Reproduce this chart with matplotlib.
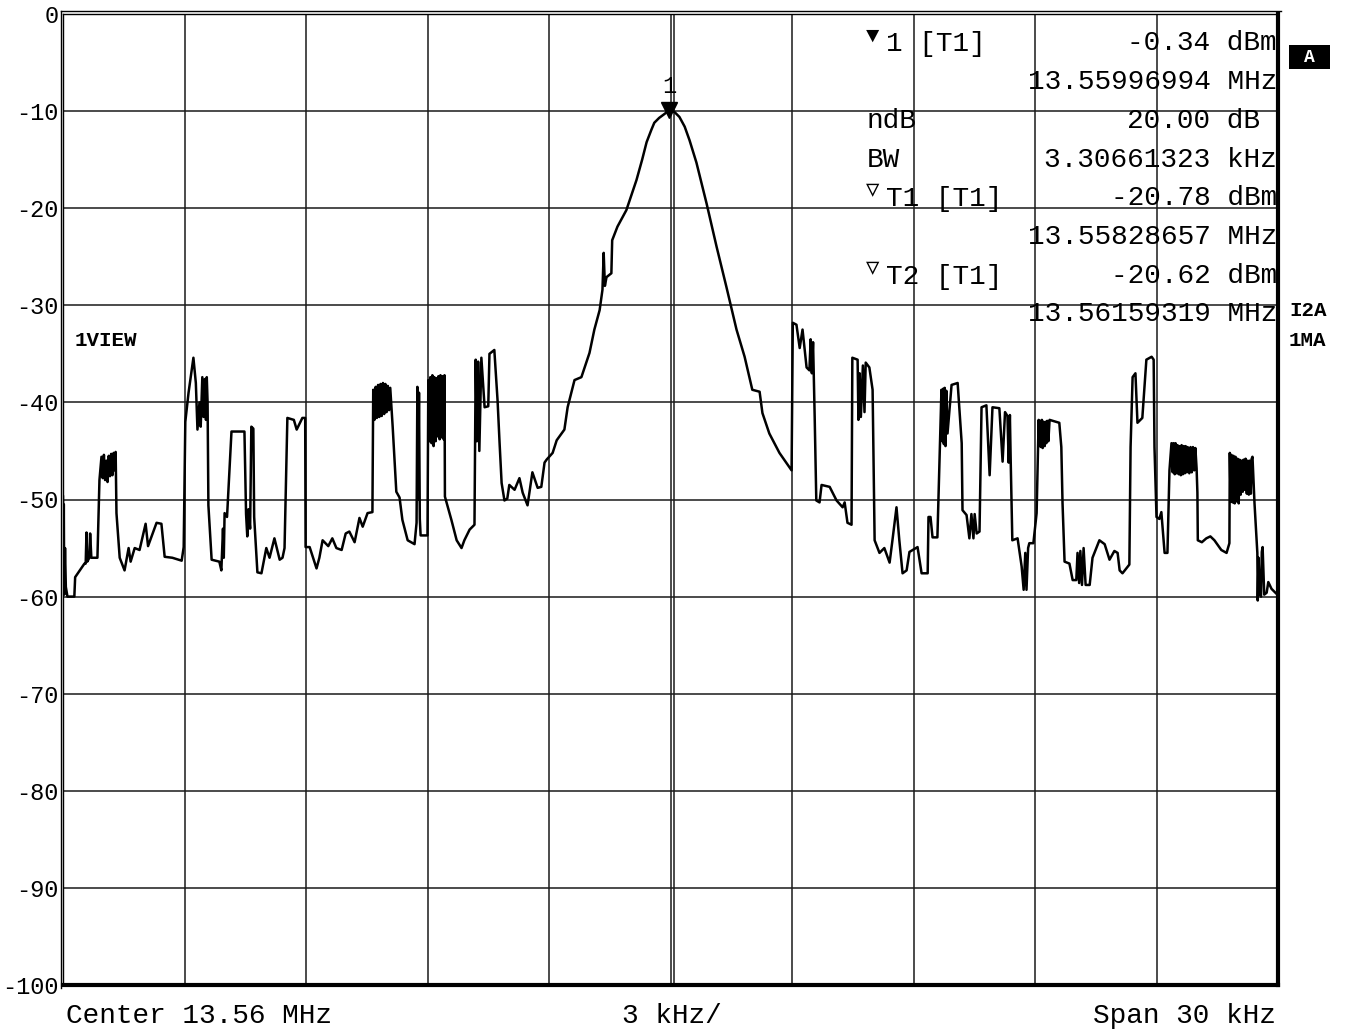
import matplotlib
matplotlib.use("Agg")
import matplotlib.pyplot as plt
from matplotlib.lines import Line2D
from matplotlib.patches import Rectangle

# trace: frequency offset from centre (kHz) and level (dB)
freq_khz = [
    -15.0, -14.99, -14.98, -14.97, -14.95, -14.93, -14.89, -14.72, -14.70, -14.47,
    -14.44, -14.42, -14.40, -14.35, -14.33, -14.30, -14.15, -14.12, -14.10, -14.05,
    -14.02, -13.99, -13.96, -13.93, -13.90, -13.87, -13.84, -13.81, -13.78, -13.75,
    -13.72, -13.70, -13.68, -13.60, -13.48,
    -13.38, -13.33, -13.23, -13.11, -12.96, -12.90, -12.69, -12.57, -12.49, -12.30,
    -12.07, -12.02,
    -11.98, -11.90, -11.78, -11.72, -11.68, -11.63, -11.60, -11.56, -11.53, -11.50,
    -11.47, -11.45, -11.43, -11.41, -11.33, -11.14, -11.09, -11.05, -11.03, -11.01,
    -10.95, -10.84,
    -10.52, -10.48, -10.45, -10.42, -10.38, -10.35, -10.30, -10.28, -10.25, -10.20,
    -10.10,
    -9.98, -9.90, -9.78, -9.65, -9.58, -9.53, -9.46, -9.30, -9.23, -9.09,
    -9.02, -9.01,
    -8.91, -8.74, -8.67, -8.59, -8.45, -8.35, -8.25, -8.12, -8.02, -7.93,
    -7.80, -7.68, -7.60, -7.48, -7.36,
    -7.34, -7.31, -7.28, -7.25, -7.22, -7.19, -7.16, -7.13, -7.10, -7.07,
    -7.04, -7.01, -6.98, -6.95, -6.92, -6.89, -6.86,
    -6.77, -6.69, -6.62, -6.49, -6.32, -6.27,
    -6.25, -6.23, -6.21, -6.19, -6.17, -6.12, -6.00, -5.98, -5.95, -5.93,
    -5.90, -5.88, -5.85, -5.83, -5.80, -5.78, -5.75, -5.73, -5.70, -5.68,
    -5.65, -5.63, -5.60, -5.58, -5.57, -5.41, -5.28, -5.16, -5.09,
    -4.96, -4.84,
    -4.81, -4.78, -4.75, -4.72, -4.67, -4.59, -4.50, -4.47, -4.35, -4.27,
    -4.22, -4.17, -4.10, -4.03, -3.98, -3.85, -3.73, -3.65, -3.53, -3.41,
    -3.28, -3.19, -3.11, -3.06, -2.91, -2.81, -2.62, -2.54, -2.37, -2.20,
    -2.00, -1.88, -1.75, -1.68, -1.65, -1.62, -1.58, -1.46, -1.44, -1.31,
    -1.09, -0.84, -0.70, -0.59, -0.47, -0.40, -0.28, -0.15, -0.03, 0.10,
    0.22, 0.35, 0.47, 0.64, 0.89, 1.14, 1.38, 1.63, 1.83, 2.02,
    2.20, 2.27, 2.44, 2.69, 2.99,
    3.02, 3.11, 3.19, 3.26, 3.36, 3.43, 3.46, 3.49, 3.52, 3.54,
    3.56, 3.60, 3.68, 3.73, 3.93, 4.10, 4.25, 4.30, 4.37, 4.47,
    4.49, 4.62, 4.64, 4.67, 4.70, 4.75, 4.79, 4.82, 4.91, 4.99,
    5.04, 5.16, 5.28, 5.41, 5.48, 5.58, 5.65, 5.73, 5.83, 5.90,
    6.10, 6.20, 6.35, 6.37, 6.42, 6.47, 6.59,
    6.69, 6.71, 6.73, 6.75, 6.77, 6.79, 6.81, 6.84, 6.94, 7.09,
    7.19, 7.21, 7.31, 7.38, 7.43, 7.48, 7.51, 7.56, 7.63,
    7.68, 7.80, 7.88, 7.95, 8.12, 8.20, 8.26, 8.32, 8.35, 8.38,
    8.40, 8.44, 8.57, 8.67, 8.72, 8.76, 8.79, 8.83, 8.86, 8.96,
    9.04, 9.09, 9.11, 9.13, 9.15, 9.17, 9.19, 9.21, 9.24, 9.26,
    9.28, 9.30, 9.33, 9.36, 9.60, 9.65,
    9.68, 9.73, 9.85, 9.93, 10.02, 10.05, 10.09, 10.12, 10.16, 10.20,
    10.25, 10.35, 10.42, 10.59, 10.72, 10.84, 10.96, 11.04, 11.09, 11.16,
    11.33, 11.36, 11.41, 11.48, 11.53, 11.65, 11.75, 11.88, 11.93, 11.95,
    12.00, 12.07, 12.12, 12.20, 12.27, 12.32,
    12.37, 12.40, 12.42, 12.45, 12.47, 12.50, 12.52, 12.55, 12.57, 12.60,
    12.62, 12.65, 12.67, 12.70, 12.72, 12.75, 12.77, 12.81, 12.84, 12.87,
    12.90, 12.93, 12.96, 12.99, 13.01,
    13.02, 13.12, 13.23, 13.33, 13.43, 13.60, 13.73, 13.80,
    13.81, 13.83, 13.85, 13.88, 13.90, 13.93, 13.95, 13.98, 14.00, 14.03,
    14.05, 14.08, 14.10, 14.13, 14.15, 14.18, 14.20, 14.23, 14.25, 14.28,
    14.30, 14.33, 14.35, 14.37, 14.42,
    14.49, 14.50, 14.52, 14.55, 14.58, 14.60, 14.62, 14.66, 14.72, 14.76,
    14.84, 14.96, 15.0,
]
level_db = [
    -49.7, -59.5, -50.5, -59.8, -55.0, -59.0, -60.0, -60.0, -58.0, -56.6,
    -56.6, -53.4, -56.4, -56.0, -53.5, -56.0, -56.0, -51.0, -48.0, -45.6,
    -47.8, -45.4, -48.0, -46.0, -48.2, -45.5, -47.6, -45.3, -47.5, -45.2,
    -47.0, -45.1, -51.4, -56.0, -57.3,
    -55.0, -56.4, -55.0, -55.2, -52.5, -54.8, -52.4, -52.5, -55.9, -56.0,
    -56.3, -54.9,
    -42.0, -39.0, -35.4, -38.0, -42.8, -40.0, -42.5, -37.4, -41.5, -37.6,
    -41.8, -37.4, -40.0, -50.6, -56.2, -56.4, -57.3, -53.0, -56.0, -51.4,
    -51.8, -43.0,
    -43.0, -51.5, -53.8, -51.0, -53.0, -42.5, -42.7, -51.8, -54.0, -57.5,
    -57.6,
    -55.0, -56.0, -54.0, -56.2, -56.0, -55.0, -41.6, -41.8, -42.8, -41.6,
    -41.6, -54.9,
    -54.9, -57.1, -56.0, -54.2, -54.8, -54.0, -55.0, -55.2, -53.5, -53.3,
    -54.4, -51.9, -52.8, -51.4, -51.3,
    -38.7, -41.8, -38.4, -41.6, -38.2, -41.5, -38.1, -41.4, -38.0, -41.2,
    -38.1, -41.0, -38.3, -40.8, -38.5, -40.5, -42.5,
    -49.2, -49.8, -52.1, -54.2, -54.6, -52.4,
    -38.4, -50.0, -39.0, -52.0, -53.7, -53.7, -53.7, -37.7, -44.0, -37.4,
    -44.2, -37.2, -44.5, -37.4, -44.0, -37.5, -43.5, -37.3, -43.8, -37.2,
    -43.6, -37.3, -43.8, -37.2, -49.7, -52.1, -54.2, -55.0, -54.2,
    -53.1, -52.6,
    -35.6, -44.0, -35.8, -45.0, -35.4, -40.5, -40.4, -35.0, -34.6, -39.8,
    -44.2, -48.3, -50.1, -49.9, -48.5, -49.0, -47.8, -49.3, -50.6, -47.2,
    -48.8, -48.7, -46.2, -45.9, -45.2, -43.9, -42.8, -40.5, -37.7, -37.4,
    -34.9, -32.5, -30.5, -28.4, -24.6, -28.0, -27.1, -26.7, -23.3, -21.9,
    -20.2, -17.1, -15.0, -13.2, -11.9, -11.2, -10.7, -10.3, -9.9, -10.1,
    -10.6, -11.6, -13.0, -15.3, -19.5, -24.0, -28.1, -32.5, -35.3, -38.7,
    -38.9, -41.1, -43.2, -45.2, -47.0,
    -31.8, -32.0, -34.4, -32.5, -36.4, -36.7, -33.5, -37.0, -33.8, -37.5,
    -41.5, -50.1, -50.3, -48.5, -48.7, -50.1, -50.8, -50.3, -52.4, -52.6,
    -35.4, -35.6, -41.8, -37.0, -41.5, -36.2, -41.0, -35.9, -36.4, -38.7,
    -54.2, -55.5, -55.0, -56.5, -54.2, -50.8, -54.2, -57.6, -57.3, -55.4,
    -54.9, -57.6, -57.6, -51.8, -51.8, -53.9, -53.9,
    -38.7, -44.0, -38.6, -44.3, -38.5, -44.5, -38.8, -43.2, -38.2, -38.0,
    -44.2, -51.1, -51.6, -54.0, -51.5, -54.0, -51.5, -53.5, -53.3,
    -40.5, -40.3, -47.5, -40.5, -40.6, -46.1, -41.0, -41.4, -46.2, -41.3,
    -46.0, -54.2, -54.0, -56.9, -59.3, -55.5, -59.3, -55.0, -54.5, -54.5,
    -51.4, -41.8, -44.5, -41.9, -44.6, -41.8, -44.7, -42.0, -44.5, -42.0,
    -44.2, -41.9, -44.0, -41.8, -42.1, -44.6,
    -50.4, -56.4, -56.6, -58.3, -58.3, -55.5, -58.6, -55.3, -58.8, -55.0,
    -58.8, -58.8, -56.0, -54.2, -54.6, -56.2, -55.3, -55.5, -57.3, -57.6,
    -56.7, -44.6, -37.4, -37.0, -42.1, -41.6, -35.6, -35.3, -35.6, -44.6,
    -51.8, -52.0, -51.3, -55.5, -55.5, -47.0,
    -44.2, -47.2, -44.2, -47.4, -44.2, -47.3, -44.4, -47.4, -44.5, -47.5,
    -44.4, -47.4, -44.5, -47.3, -44.5, -47.2, -44.6, -47.3, -44.6, -47.2,
    -44.6, -47.0, -44.7, -46.8, -49.3,
    -54.2, -54.4, -54.0, -53.8, -54.2, -55.2, -55.5, -54.5,
    -45.2, -50.2, -45.4, -50.3, -45.5, -50.4, -45.6, -50.2, -45.8, -50.4,
    -45.9, -49.5, -46.0, -49.2, -45.9, -49.0, -45.8, -49.4, -46.0, -49.5,
    -46.0, -49.4, -45.8, -45.6, -50.4,
    -55.5, -60.4, -56.0, -59.6, -60.0, -55.4, -54.9, -59.8, -59.6, -58.5,
    -59.2, -59.7, -59.8,
]

y_ticks = [0, -10, -20, -30, -40, -50, -60, -70, -80, -90, -100]
x_grid = [-15, -12, -9, -6, -3, 0, 3, 6, 9, 12, 15]

marker_freq = -0.03
marker_level = -9.9

table_left = ["1 [T1]", "", "ndB", "BW", "T1 [T1]", "", "T2 [T1]", ""]
table_right = ["-0.34 dBm", "13.55996994 MHz", "20.00 dB ", "3.30661323 kHz",
               "-20.78 dBm", "13.55828657 MHz", "-20.62 dBm", "13.56159319 MHz"]
table_marks = ["\u25bc", "", "", "", "\u25bd", "", "\u25bd", ""]

MONO = ["Liberation Mono", "DejaVu Sans Mono", "DejaVu Sans"]
W, H = 1350, 1030

fig = plt.figure(figsize=(W / 100, H / 100), dpi=100)
ax = fig.add_axes([63 / W, 1 - 985 / H, (1278 - 63) / W, (985 - 14) / H])

# grid; the centre line is drawn double
for v in x_grid[1:-1]:
    ax.axvline(v, color="#1a1a1a", lw=1.1, zorder=1)
ax.axvline(0.075, color="#1a1a1a", lw=1.1, zorder=1)
for v in y_ticks[1:-1]:
    ax.axhline(v, color="#1a1a1a", lw=1.1, zorder=1)

ax.plot(freq_khz, level_db, color="black", lw=1.8, zorder=3)

# marker 1 at the peak
ax.plot([marker_freq], [marker_level], marker="v", ms=12, color="black",
        zorder=4, ls="none")
ax.annotate("1", (marker_freq, marker_level), xytext=(0, 9),
            textcoords="offset points", ha="center", va="bottom",
            fontsize=17, family=MONO)

ax.set_xlim(-15, 15)
ax.set_ylim(-100, 0)
ax.set_xticks([])
ax.set_yticks(y_ticks)
ax.set_yticklabels([str(v) for v in y_ticks], family=MONO, fontsize=17)
ax.tick_params(axis="y", length=0, pad=3)

for side in ["left", "top"]:
    ax.spines[side].set_linewidth(1.0)
for side in ["right", "bottom"]:
    ax.spines[side].set_linewidth(3.0)

# outer line of the double frame on the left and top
fig.add_artist(Line2D([60.5 / W, 60.5 / W], [1 - 988 / H, 1 - 11 / H], color="black", lw=1.0))
fig.add_artist(Line2D([60.5 / W, 1281 / W], [1 - 11 / H, 1 - 11 / H], color="black", lw=1.0))


def fx(px):
    return px / W


def fy(py):
    return 1 - py / H


# marker readout
row_y = [43, 82, 121, 160, 198, 237, 276, 314]
for y, left, right, mark in zip(row_y, table_left, table_right, table_marks):
    if mark:
        fig.text(fx(866), fy(y - 7), mark, fontsize=16, family=MONO, va="center", ha="left")
        fig.text(fx(886), fy(y + 1), left, fontsize=20, family=MONO, va="center", ha="left")
    elif left:
        fig.text(fx(867), fy(y), left, fontsize=20, family=MONO, va="center", ha="left")
    fig.text(fx(1277), fy(y), right, fontsize=20, family=MONO, va="center", ha="right")

fig.text(fx(75), fy(341), "1VIEW", fontsize=15, family=MONO, weight="bold", va="center")
fig.add_artist(Rectangle((fx(1289), fy(69)), 41 / W, 24 / H, transform=fig.transFigure,
                         facecolor="black", edgecolor="none"))
fig.text(fx(1309.5), fy(57), "A", fontsize=13, family=MONO, weight="bold", color="white",
         va="center", ha="center")
fig.text(fx(1289), fy(310), "I2A", fontsize=15, family=MONO, weight="bold", va="center")
fig.text(fx(1289), fy(341), "1MA", fontsize=15, family=MONO, weight="bold", va="center")

fig.text(fx(66), fy(1016), "Center 13.56 MHz", fontsize=20, family=MONO, va="center")
fig.text(fx(672), fy(1016), "3 kHz/", fontsize=20, family=MONO, va="center", ha="center")
fig.text(fx(1276), fy(1016), "Span 30 kHz", fontsize=20, family=MONO, va="center", ha="right")

fig.savefig("out.png", dpi=100, facecolor="white")
